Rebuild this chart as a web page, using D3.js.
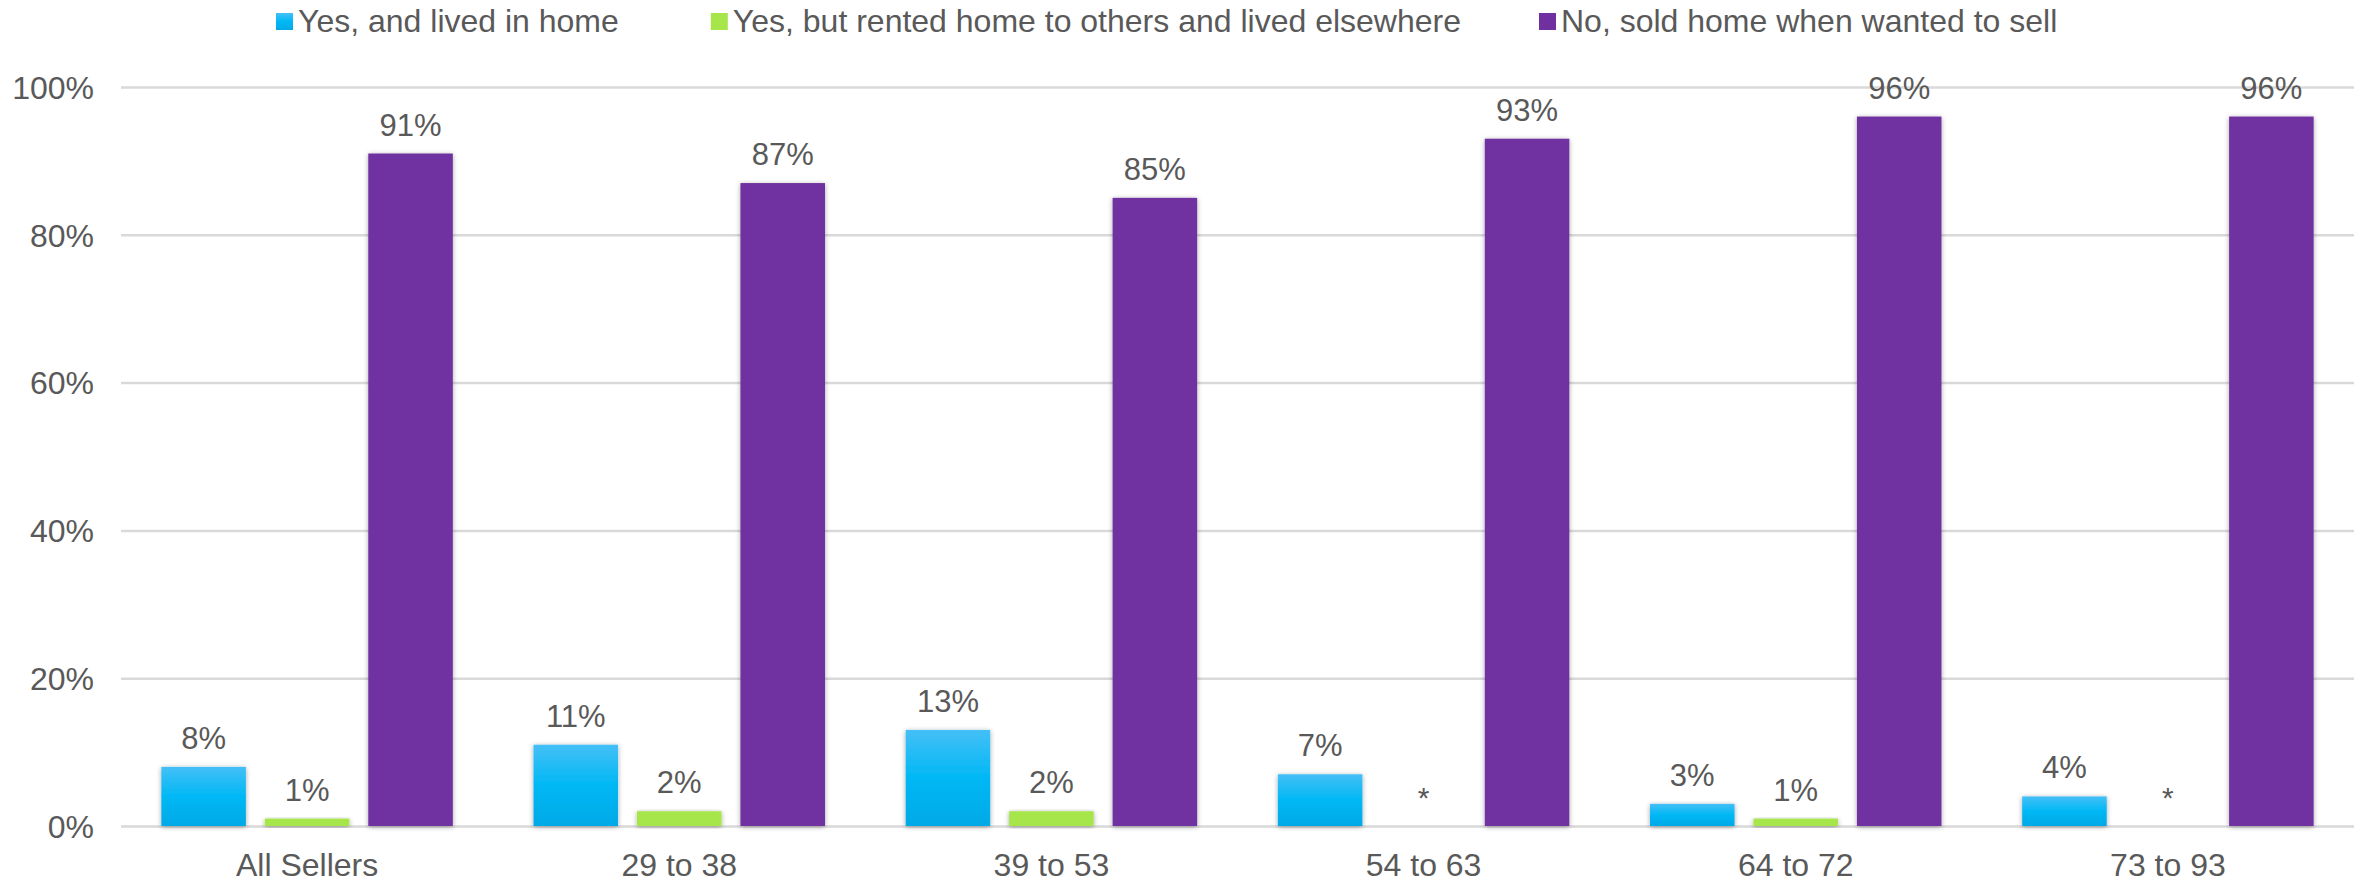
<!DOCTYPE html>
<html><head><meta charset="utf-8">
<script src="https://cdn.jsdelivr.net/npm/d3@7"></script>
<style>
html,body{margin:0;padding:0;background:#fff;}
text{font-family:"Liberation Sans",Arial,sans-serif;fill:#595959;}
</style></head>
<body><svg id="c" width="2369" height="882"></svg>
<script>
const categories = ["All Sellers","29 to 38","39 to 53","54 to 63","64 to 72","73 to 93"];
const seriesNames = ["Yes, and lived in home","Yes, but rented home to others and lived elsewhere","No, sold home when wanted to sell"];
const livedInHome = [8,11,13,7,3,4];
const rentedToOthers = [1,2,2,null,1,null];
const soldWhenWanted = [91,87,85,93,96,96];
const yTicks = [0,20,40,60,80,100];
const seriesValues = [livedInHome, rentedToOthers, soldWhenWanted];

const W = 2369, H = 882;
const m = {left:121, right:15, top:87, bottom:56};
const svg = d3.select("#c");
const defs = svg.append("defs");
const g1 = defs.append("linearGradient").attr("id","gBlue").attr("x1",0).attr("x2",0).attr("y1",0).attr("y2",1);
g1.append("stop").attr("offset","0%").attr("stop-color","#45bff6");
g1.append("stop").attr("offset","50%").attr("stop-color","#00b8f5");
g1.append("stop").attr("offset","100%").attr("stop-color","#00a9e6");
const f = defs.append("filter").attr("id","sh").attr("x","-20%").attr("y","-10%").attr("width","140%").attr("height","125%");
f.append("feDropShadow").attr("dx",0).attr("dy",1).attr("stdDeviation",2.5).attr("flood-color","#000").attr("flood-opacity",0.35);

const colors = ["url(#gBlue)","#a6e64b","#7030a0"];
const legendColors = ["url(#gBlue)","#a6e64b","#7030a0"];

const x0 = d3.scaleBand().domain(categories).range([m.left, W-m.right]).paddingInner(0).paddingOuter(0);
const x1 = d3.scaleBand().domain(d3.range(3)).range([0, x0.bandwidth()]).paddingInner(0.183).paddingOuter(0.39);
const y = d3.scaleLinear().domain([0,100]).range([H-m.bottom, m.top]);

// grid / y axis
const yAxis = d3.axisLeft(y).tickValues(yTicks).tickFormat(d=>d+"%").tickSize(-(W-m.right-m.left)).tickPadding(27);
const ga = svg.append("g").attr("transform",`translate(${m.left},0)`).call(yAxis);
ga.select(".domain").remove();
ga.selectAll(".tick line").attr("stroke","#d9d9d9").attr("stroke-width",2.5);
ga.selectAll(".tick text").attr("font-size",32).attr("fill","#595959").attr("dy","0.35em");

// bars
const groups = svg.append("g").selectAll("g").data(categories).join("g")
  .attr("transform",d=>`translate(${x0(d)},0)`);
groups.each(function(cat, ci){
  const g = d3.select(this);
  seriesValues.forEach((arr, si)=>{
    const v = arr[ci];
    if (v !== null) {
      g.append("rect").attr("x",x1(si)).attr("width",x1.bandwidth())
        .attr("y",y(v)).attr("height",y(0)-y(v)).attr("fill",colors[si]).attr("filter","url(#sh)");
    }
    g.append("text").attr("x",x1(si)+x1.bandwidth()/2).attr("y",y(v===null?0:v)-18)
      .attr("text-anchor","middle").attr("font-size",v===null?30:31).attr("fill","#404040")
      .text(v===null?"*":v+"%");
  });
});

// x labels
svg.append("g").selectAll("text").data(categories).join("text")
  .attr("x",d=>x0(d)+x0.bandwidth()/2).attr("y",H-6).attr("text-anchor","middle")
  .attr("font-size",32).text(d=>d);

// legend
const lg = svg.append("g");
const items = lg.selectAll("g").data(seriesNames).join("g");
items.append("rect").attr("width",17).attr("height",17).attr("y",-19).attr("fill",(d,i)=>legendColors[i]);
items.append("text").attr("x",22).attr("font-size",32).text(d=>d);
let xPos = 0; const gaps = [92, 78, 0];
items.each(function(d,i){
  const w = this.getBBox().width;
  d3.select(this).attr("transform",`translate(${xPos},0)`);
  xPos += w + gaps[i];
});
lg.attr("transform",`translate(276,32)`);
</script></body></html>
